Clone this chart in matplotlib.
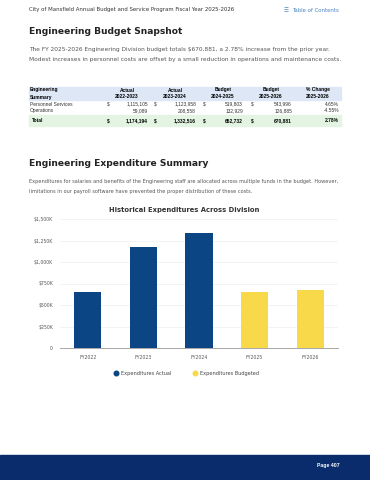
import matplotlib.pyplot as plt
from matplotlib.lines import Line2D
from matplotlib.patches import Rectangle
from matplotlib.ticker import FuncFormatter, MultipleLocator

# --- data -------------------------------------------------------------------
col_heads = ["Actual\n2022-2023", "Actual\n2023-2024", "Budget\n2024-2025", "Budget\n2025-2026"]
personnel = ["1,115,105", "1,123,958", "519,803", "543,996"]
operations = ["59,089", "208,558", "132,929", "126,885"]
totals = ["1,174,194", "1,332,516", "652,732", "670,881"]
pct_change = ["4.65%", "-4.55%", "2.78%"]

years = ["FY2022", "FY2023", "FY2024", "FY2025", "FY2026"]
actual = [651, 1174, 1332, None, None]      # $K
budgeted = [None, None, None, 653, 671]     # $K

W, H = 370, 480
NAVY = "#0b4584"
GOLD = "#f8d94a"
GREY = "#555555"

fig = plt.figure(figsize=(W / 100, H / 100), dpi=100)


def px(x, y):
    return x / W, 1 - y / H


def text(x, y, s, **kw):
    fig.text(*px(x, y), s, **kw)


def band(x0, y0, x1, y1, color):
    fig.patches.append(Rectangle(px(x0, y1), (x1 - x0) / W, (y1 - y0) / H,
                                 transform=fig.transFigure, color=color, zorder=0))


body = "DejaVu Sans"
tbl_font = "Liberation Sans"

# page header
text(29, 10, "City of Mansfield Annual Budget and Service Program Fiscal Year 2025-2026",
     fontsize=3.9, color="#333333", va="center", family=body)
text(284, 11, "\u2630", fontsize=4.0, color="#4a86c5", va="center", family=body)
text(292, 11, "Table of Contents", fontsize=3.9, color="#4a86c5", va="center", family=body)

# section 1
text(29, 32, "Engineering Budget Snapshot", fontsize=6.6, weight="bold",
     color="#222222", va="center", family=body)
text(29, 50, "The FY 2025-2026 Engineering Division budget totals $670,881, a 2.78% increase from the prior year.",
     fontsize=4.2, color=GREY, va="center", family=body)
text(29, 60, "Modest increases in personnel costs are offset by a small reduction in operations and maintenance costs.",
     fontsize=4.2, color=GREY, va="center", family=body)

# table
band(29, 87, 341, 100, "#dde7f6")
band(29, 115, 341, 126, "#e3f4e3")
fs = 3.5
text(30, 93.5, "Engineering\nSummary", fontsize=fs, weight="bold", va="center",
     family=tbl_font, linespacing=1.5)
centers = [127, 175, 223, 271]
dollar_x = [107, 154, 203, 251]
num_x = [148, 196, 243, 292]
for i, h in enumerate(col_heads):
    text(centers[i], 93.5, h, fontsize=fs, weight="bold", va="center", ha="center",
         family=tbl_font, linespacing=1.5)
text(318, 93.5, "% Change\n2025-2026", fontsize=fs, weight="bold", va="center", ha="center",
     family=tbl_font, linespacing=1.5)

text(30, 104, "Personnel Services", fontsize=fs, va="center", family=tbl_font, color="#333333")
text(30, 110.5, "Operations", fontsize=fs, va="center", family=tbl_font, color="#333333")
text(32, 121, "Total", fontsize=fs, weight="bold", va="center", family=tbl_font)
for i in range(4):
    text(dollar_x[i], 104, "$", fontsize=fs, va="center", family=tbl_font, color="#333333")
    text(num_x[i], 104, personnel[i], fontsize=fs, va="center", ha="right", family=tbl_font, color="#333333")
    text(num_x[i], 110.5, operations[i], fontsize=fs, va="center", ha="right", family=tbl_font, color="#333333")
    text(dollar_x[i], 121, "$", fontsize=fs, weight="bold", va="center", family=tbl_font)
    text(num_x[i], 121, totals[i], fontsize=fs, weight="bold", va="center", ha="right", family=tbl_font)
text(339, 104, pct_change[0], fontsize=fs, va="center", ha="right", family=tbl_font, color="#333333")
text(339, 110.5, pct_change[1], fontsize=fs, va="center", ha="right", family=tbl_font, color="#333333")
text(339, 121, pct_change[2], fontsize=fs, weight="bold", va="center", ha="right", family=tbl_font)

# section 2
text(29, 164, "Engineering Expenditure Summary", fontsize=6.6, weight="bold",
     color="#222222", va="center", family=body)
text(29, 182, "Expenditures for salaries and benefits of the Engineering staff are allocated across multiple funds in the budget. However,",
     fontsize=3.6, color=GREY, va="center", family=body)
text(29, 192, "limitations in our payroll software have prevented the proper distribution of these costs.",
     fontsize=3.6, color=GREY, va="center", family=body)
text(184, 210, "Historical Expenditures Across Division", fontsize=4.9, weight="semibold",
     color="#333333", va="center", ha="center", family=body)

# chart
ax = fig.add_axes([60 / W, 1 - 348 / H, (338 - 60) / W, (348 - 219) / H])
xs = range(len(years))
ax.bar(xs, [v if v is not None else 0 for v in actual], width=0.49, color=NAVY, zorder=3)
ax.bar(xs, [v if v is not None else 0 for v in budgeted], width=0.49, color=GOLD, zorder=3)
ax.set_xlim(-0.5, len(years) - 0.5)
ax.set_ylim(0, 1500)
ax.yaxis.set_major_locator(MultipleLocator(250))
ax.yaxis.set_major_formatter(FuncFormatter(lambda v, _: "0" if v == 0 else f"${v:,.0f}K"))
ax.set_xticks(list(xs))
ax.set_xticklabels(years)
ax.tick_params(axis="both", length=0, labelsize=3.3, labelcolor=GREY, pad=5)
for lab in ax.get_xticklabels() + ax.get_yticklabels():
    lab.set_family(body)
ax.grid(axis="y", color="#eeeeee", linewidth=0.5, zorder=0)
for side in ["left", "right", "top"]:
    ax.spines[side].set_visible(False)
ax.spines["bottom"].set_color("#999999")
ax.spines["bottom"].set_linewidth(0.6)

handles = [
    Line2D([], [], marker="o", linestyle="", color=NAVY, markersize=3.3, label="Expenditures Actual"),
    Line2D([], [], marker="o", linestyle="", color=GOLD, markersize=3.3, label="Expenditures Budgeted"),
]
fig.legend(handles=handles, loc="center", bbox_to_anchor=px(185, 373), ncol=2, frameon=False,
           prop={"family": body, "size": 3.6}, handletextpad=0.1, columnspacing=3.6,
           labelcolor="#444444")

# footer
band(0, 455, W, H, "#0a2c6c")
text(340, 466, "Page 407", fontsize=3.7, weight="bold", color="white", va="center", ha="right",
     family=tbl_font)

fig.savefig("out.png", dpi=100)
